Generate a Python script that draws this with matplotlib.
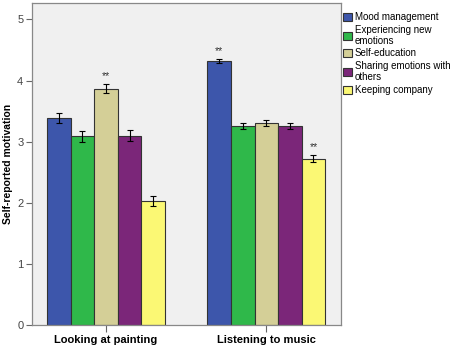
import numpy as np
import matplotlib
matplotlib.use("Agg")
import matplotlib.pyplot as plt

plt.rcParams["font.family"] = ["Liberation Sans", "DejaVu Sans"]

groups = ["Looking at painting", "Listening to music"]
motives = ["Mood management", "Experiencing new\nemotions", "Self-education",
           "Sharing emotions with\nothers", "Keeping company"]
colors = ["#3d56ab", "#2fb84a", "#d4cf97", "#7b2679", "#fbf874"]

means = np.array([
    [3.39, 4.32],
    [3.09, 3.25],
    [3.87, 3.31],
    [3.10, 3.26],
    [2.03, 2.72],
])
errors = np.array([
    [0.08, 0.03],
    [0.09, 0.05],
    [0.07, 0.05],
    [0.09, 0.05],
    [0.08, 0.06],
])
# (motive index, group index) pairs flagged with **
stars = [(2, 0), (0, 1), (4, 1)]

fig = plt.figure(figsize=(4.54, 3.48), dpi=100)
ax = fig.add_axes([0.0698, 0.0661, 0.6806, 0.9253])
ax.set_facecolor("#f0f0f0")

width = 0.147
x = np.arange(len(groups))
for i, (m, c) in enumerate(zip(motives, colors)):
    pos = x + (i - 2) * width
    ax.bar(pos, means[i], width, color=c, edgecolor="#333333", linewidth=0.8,
           label=m, zorder=2)
    ax.errorbar(pos, means[i], yerr=errors[i], fmt="none", ecolor="black",
                elinewidth=0.8, capsize=2.5, capthick=0.8, zorder=3)

for i, g in stars:
    ax.text(x[g] + (i - 2) * width, means[i, g] + errors[i, g] + 0.05, "**",
            ha="center", va="bottom", fontsize=7.5, color="#333333")

ax.set_xlim(-0.464, 1.464)
ax.set_ylim(0, 5.27)
ax.set_yticks(range(6))
ax.set_xticks(x)
ax.set_xticklabels(groups, fontsize=8, fontweight="bold")
ax.tick_params(axis="y", labelsize=8, labelcolor="#444444", length=4,
               color="#666666", pad=2)
ax.tick_params(axis="x", length=5, color="#666666", pad=2)
ax.set_ylabel("Self-reported motivation", fontsize=7.5, fontweight="bold",
              labelpad=3)
for s in ax.spines.values():
    s.set_color("#888888")
    s.set_linewidth(0.9)

leg = ax.legend(loc="upper left", bbox_to_anchor=(0.99, 0.99), frameon=False,
                fontsize=7, handlelength=0.9, handleheight=0.9,
                handletextpad=0.25, labelspacing=0.27, borderaxespad=0.2)
for t in leg.get_texts():
    t.set_linespacing(1.15)

fig.savefig("out.png", dpi=100)
